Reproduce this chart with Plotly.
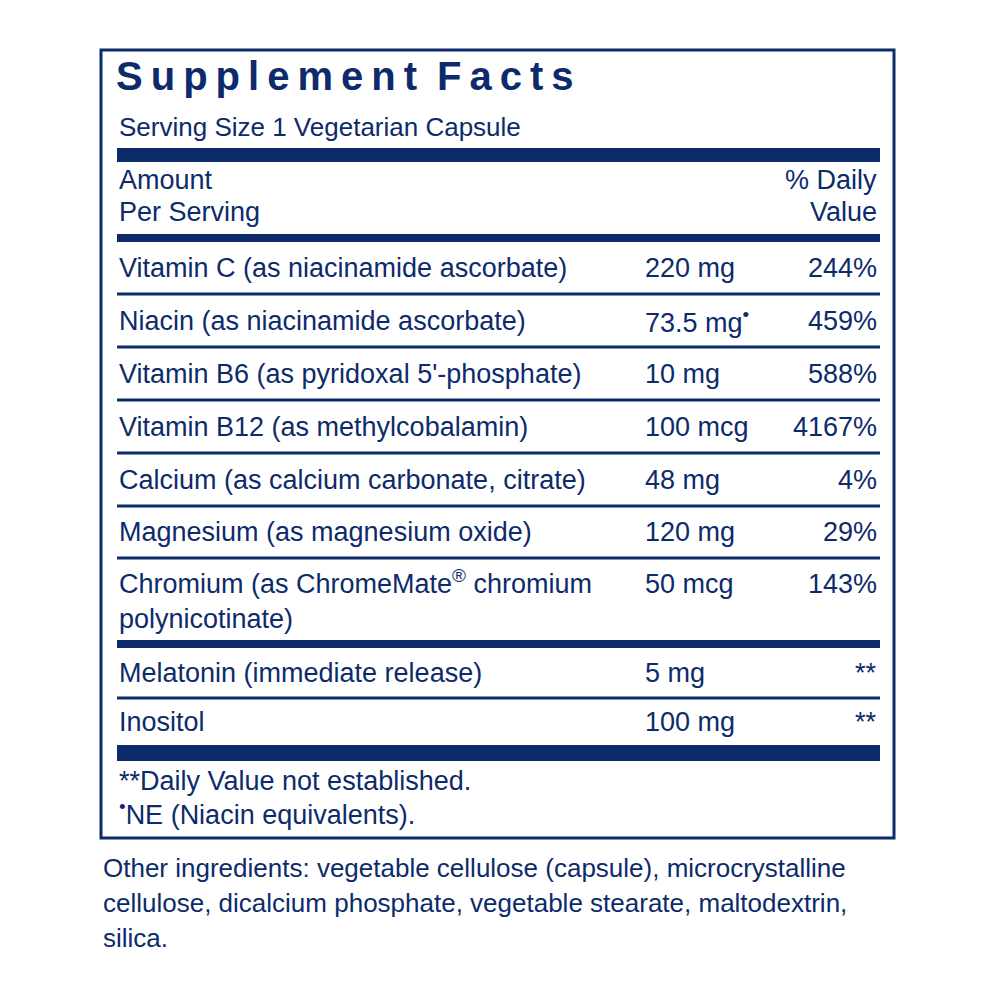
import plotly.graph_objects as go

# label content
title = "Supplement Facts"
serving = "Serving Size 1 Vegetarian Capsule"
nutrients = [
    "Vitamin C (as niacinamide ascorbate)",
    "Niacin (as niacinamide ascorbate)",
    "Vitamin B6 (as pyridoxal 5'-phosphate)",
    "Vitamin B12 (as methylcobalamin)",
    "Calcium (as calcium carbonate, citrate)",
    "Magnesium (as magnesium oxide)",
    "Chromium (as ChromeMate<sup>®</sup> chromium<br>polynicotinate)",
    "Melatonin (immediate release)",
    "Inositol",
]
amounts = ["220 mg", "73.5 mg<sup>•</sup>", "10 mg", "100 mcg", "48 mg",
           "120 mg", "50 mcg", "5 mg", "100 mg"]
daily = ["244%", "459%", "588%", "4167%", "4%", "29%", "143%", "**", "**"]
footnotes = ["**Daily Value not established.", "<sup>•</sup>NE (Niacin equivalents)."]
other = ["Other ingredients: vegetable cellulose (capsule), microcrystalline",
         "cellulose, dicalcium phosphate, vegetable stearate, maltodextrin,",
         "silica."]

NAVY = "#0d2b6b"
FONT = "Liberation Sans"
FS = 27
OFF = 8  # page offset of the plot area

shapes = []
ann = []

def text(x, y, s, size=FS, anchor="left", bold=False):
    ann.append(dict(x=x - OFF, y=y - OFF, text=("<b>%s</b>" % s) if bold else s,
                    showarrow=False, xanchor=anchor, yanchor="middle", align=anchor,
                    font=dict(family=FONT, size=size, color=NAVY)))

def bar(y0, y1, x0=117, x1=880):
    shapes.append(dict(type="rect", x0=x0 - OFF, x1=x1 - OFF, y0=y0 - OFF, y1=y1 - OFF,
                       fillcolor=NAVY, line=dict(width=0)))

# outer box
shapes.append(dict(type="rect", x0=101 - OFF, x1=894 - OFF, y0=50 - OFF, y1=838 - OFF,
                   line=dict(color=NAVY, width=3)))

text(114, 76, "\u2009".join(title).replace("\u2009 \u2009", "\u2002"), size=40, bold=True)
text(117, 127, serving, size=26)
bar(148, 162)
text(117, 180, "Amount")
text(117, 212, "Per Serving")
text(879, 180, "% Daily", anchor="right")
text(879, 212, "Value", anchor="right")
bar(234, 242)

# rows
heights = [52, 53, 53, 53, 53, 52, 86, 54, 48]
y = 242
for i, (n, a, d) in enumerate(zip(nutrients, amounts, daily)):
    h = heights[i]
    cy = y + h / 2 + (-2 if i == 6 else 0)
    if i == 7:
        cy = y + h / 2 + 2
    text(117, cy, n)
    ty = cy if i != 6 else 584
    text(643, ty, a)
    text(879, ty, d, anchor="right")
    y += h
    if i < len(nutrients) - 1:
        if i == 6:
            bar(y - 4, y + 4)
        else:
            bar(y - 1.5, y + 1.5)
bar(745, 761)

text(117, 781, footnotes[0])
text(117, 813, footnotes[1])
for k, line in enumerate(other):
    text(101, 868 + 35 * k, line, size=26)

fig = go.Figure()
fig.update_layout(
    width=1000, height=1000, margin=dict(l=0, r=0, t=0, b=0),
    paper_bgcolor="white", plot_bgcolor="white",
    xaxis=dict(range=[0, 1000], visible=False),
    yaxis=dict(range=[1000, 0], visible=False),
    shapes=shapes, annotations=ann, showlegend=False,
)
fig.write_html("out.html")
